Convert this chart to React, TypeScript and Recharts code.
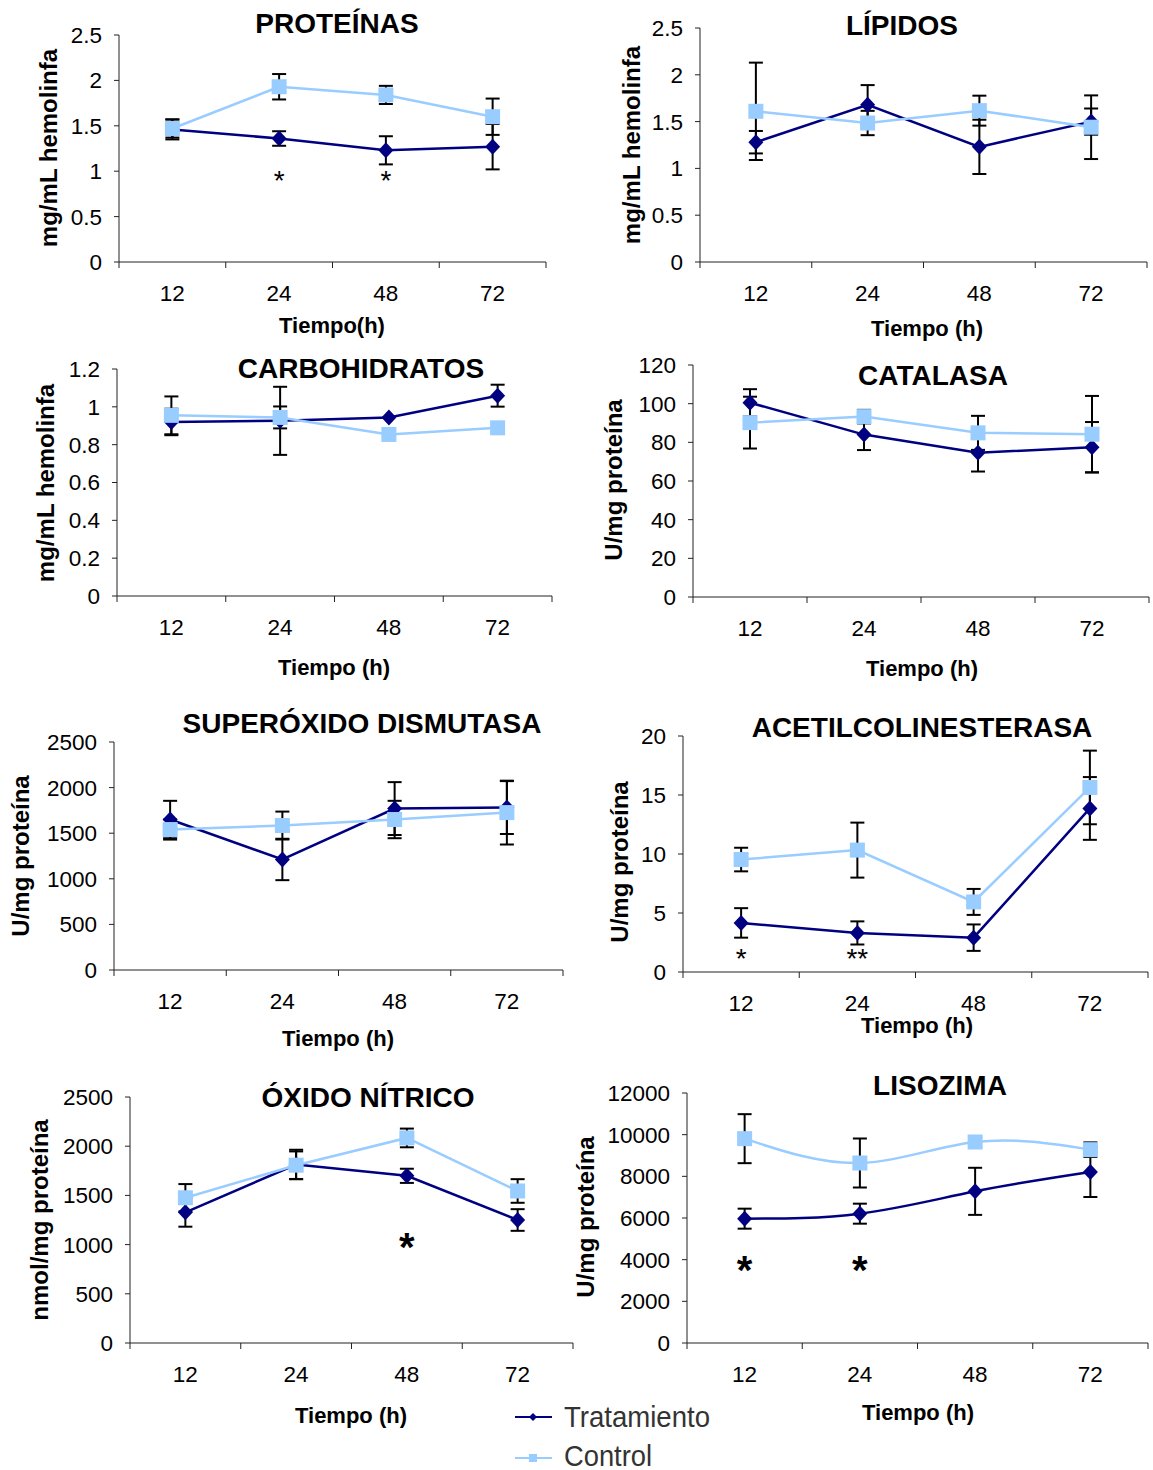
import React from "react";
import {LineChart, Line, XAxis, YAxis, ErrorBar, ReferenceDot} from "recharts";

const hours = ["12", "24", "48", "72"];

// PROTEÍNAS
const protTrat = [1.46, 1.36, 1.23, 1.27];
const protTratErr = [0.11, 0.08, 0.155, 0.25];
const protCtrl = [1.47, 1.93, 1.84, 1.6];
const protCtrlErr = [0.1, 0.14, 0.1, 0.2];
const protSig = ["", "*", "*", ""];
const protTicks = [0, 0.5, 1, 1.5, 2, 2.5];

// LÍPIDOS
const lipTrat = [1.28, 1.68, 1.23, 1.5];
const lipTratErr = [0.12, 0.21, 0.29, 0.14];
const lipCtrl = [1.61, 1.485, 1.617, 1.44];
const lipCtrlErr = [0.52, 0.13, 0.16, 0.34];
const lipTicks = [0, 0.5, 1, 1.5, 2, 2.5];

// CARBOHIDRATOS
const carbTrat = [0.92, 0.926, 0.944, 1.059];
const carbTratErr = [0.07, 0.18, 0, 0.058];
const carbCtrl = [0.955, 0.944, 0.854, 0.889];
const carbCtrlErr = [0.1, 0.058, 0, 0];
const carbTicks = [0, 0.2, 0.4, 0.6, 0.8, 1, 1.2];

// CATALASA
const catTrat = [100.5, 84, 74.6, 77.5];
const catTratErr = [7, 8, 9.7, 13];
const catCtrl = [90.2, 93.3, 84.9, 84.2];
const catCtrlErr = [13.4, 3.5, 8.8, 19.8];
const catTicks = [0, 20, 40, 60, 80, 100, 120];

// SUPERÓXIDO DISMUTASA
const sodTrat = [1650, 1212, 1770, 1781];
const sodTratErr = [205, 227, 290, 290];
const sodCtrl = [1540, 1584, 1650, 1726];
const sodCtrlErr = [110, 153, 205, 350];
const sodTicks = [0, 500, 1000, 1500, 2000, 2500];

// ACETILCOLINESTERASA
const acheTrat = [4.16, 3.31, 2.91, 13.86];
const acheTratErr = [1.25, 0.98, 1.12, 2.66];
const acheCtrl = [9.53, 10.33, 5.94, 15.64];
const acheCtrlErr = [1.0, 2.33, 1.1, 3.12];
const acheSig = ["*", "**", "", ""];
const acheTicks = [0, 5, 10, 15, 20];

// ÓXIDO NÍTRICO
const noTrat = [1328, 1814, 1699, 1250];
const noTratErr = [146, 150, 72, 110];
const noCtrl = [1476, 1807, 2084, 1545];
const noCtrlErr = [139, 140, 95, 120];
const noSig = ["", "", "*", ""];
const noTicks = [0, 500, 1000, 1500, 2000, 2500];

// LISOZIMA
const lisTrat = [5968, 6208, 7280, 8208];
const lisTratErr = [480, 480, 1130, 1200];
const lisCtrl = [9808, 8640, 9648, 9280];
const lisCtrlErr = [1176, 1176, 250, 350];
const lisSig = ["*", "*", "", ""];
const lisTicks = [0, 2000, 4000, 6000, 8000, 10000, 12000];

const NAVY = "#000080";
const LIGHT = "#99CCFF";
const AXIS = "#222";
const FONT = "'Liberation Sans', Arial, sans-serif";

const PAD_L = 110;
const PAD_T = 40;
const PAD_R = 6;
const PAD_B = 50;

const xTicks = [0, 0.5, 1, 1.5, 2, 2.5, 3, 3.5, 4];

const panels = [
  {title: "PROTEÍNAS", yLabel: "mg/mL hemolinfa", xLabel: "Tiempo(h)", trat: protTrat, tratErr: protTratErr, ctrl: protCtrl, ctrlErr: protCtrlErr, ticks: protTicks, sig: protSig, sigY: 0.94, sigSize: 28, sigBold: false, curve: "linear",
    box: {l: 119, t: 35, r: 546, b: 262}, titleAt: [337, 23], yLabelAt: [48, 148], xLabelAt: [332, 325]},
  {title: "LÍPIDOS", yLabel: "mg/mL hemolinfa", xLabel: "Tiempo (h)", trat: lipTrat, tratErr: lipTratErr, ctrl: lipCtrl, ctrlErr: lipCtrlErr, ticks: lipTicks, sig: null, sigY: 0, sigSize: 28, sigBold: false, curve: "linear",
    box: {l: 700, t: 28, r: 1147, b: 262}, titleAt: [902, 25], yLabelAt: [631, 145], xLabelAt: [927, 328]},
  {title: "CARBOHIDRATOS", yLabel: "mg/mL hemolinfa", xLabel: "Tiempo (h)", trat: carbTrat, tratErr: carbTratErr, ctrl: carbCtrl, ctrlErr: carbCtrlErr, ticks: carbTicks, sig: null, sigY: 0, sigSize: 28, sigBold: false, curve: "linear",
    box: {l: 117, t: 369, r: 552, b: 596}, titleAt: [361, 368], yLabelAt: [45, 483], xLabelAt: [334, 667]},
  {title: "CATALASA", yLabel: "U/mg proteína", xLabel: "Tiempo (h)", trat: catTrat, tratErr: catTratErr, ctrl: catCtrl, ctrlErr: catCtrlErr, ticks: catTicks, sig: null, sigY: 0, sigSize: 28, sigBold: false, curve: "linear",
    box: {l: 693, t: 365, r: 1149, b: 597}, titleAt: [933, 375], yLabelAt: [613, 480], xLabelAt: [922, 668]},
  {title: "SUPERÓXIDO DISMUTASA", yLabel: "U/mg proteína", xLabel: "Tiempo (h)", trat: sodTrat, tratErr: sodTratErr, ctrl: sodCtrl, ctrlErr: sodCtrlErr, ticks: sodTicks, sig: null, sigY: 0, sigSize: 28, sigBold: false, curve: "linear",
    box: {l: 114, t: 742, r: 563, b: 970}, titleAt: [362, 723], yLabelAt: [20, 856], xLabelAt: [338, 1038]},
  {title: "ACETILCOLINESTERASA", yLabel: "U/mg proteína", xLabel: "Tiempo (h)", trat: acheTrat, tratErr: acheTratErr, ctrl: acheCtrl, ctrlErr: acheCtrlErr, ticks: acheTicks, sig: acheSig, sigY: 1.44, sigSize: 28, sigBold: false, curve: "linear",
    box: {l: 683, t: 736, r: 1148, b: 972}, titleAt: [922, 727], yLabelAt: [619, 862], xLabelAt: [917, 1025]},
  {title: "ÓXIDO NÍTRICO", yLabel: "nmol/mg proteína", xLabel: "Tiempo (h)", trat: noTrat, tratErr: noTratErr, ctrl: noCtrl, ctrlErr: noCtrlErr, ticks: noTicks, sig: noSig, sigY: 1026, sigSize: 40, sigBold: true, curve: "linear",
    box: {l: 130, t: 1097, r: 573, b: 1343}, titleAt: [368, 1097], yLabelAt: [39, 1220], xLabelAt: [351, 1415]},
  {title: "LISOZIMA", yLabel: "U/mg proteína", xLabel: "Tiempo (h)", trat: lisTrat, tratErr: lisTratErr, ctrl: lisCtrl, ctrlErr: lisCtrlErr, ticks: lisTicks, sig: lisSig, sigY: 3744, sigSize: 40, sigBold: true, curve: "natural",
    box: {l: 687, t: 1093, r: 1148, b: 1343}, titleAt: [940, 1085], yLabelAt: [585, 1217], xLabelAt: [918, 1412]},
];

const buildRows = (trat: number[], tratErr: number[], ctrl: number[], ctrlErr: number[]) =>
  hours.map((h, i) => ({x: i + 0.5, hora: h, trat: trat[i], tratErr: tratErr[i], ctrl: ctrl[i], ctrlErr: ctrlErr[i]}));

const diamondDot = (props: any) => {
  const {cx, cy, index} = props;
  if (cx == null || cy == null) return <g key={index} />;
  return <path key={index} d={`M${cx},${cy - 8}L${cx + 7.5},${cy}L${cx},${cy + 8}L${cx - 7.5},${cy}Z`} fill={NAVY} />;
};

const squareDot = (props: any) => {
  const {cx, cy, index} = props;
  if (cx == null || cy == null) return <g key={index} />;
  return <rect key={index} x={cx - 7.5} y={cy - 7.5} width={15} height={15} fill={LIGHT} />;
};

function Panel({p}: {p: any}) {
  const w = p.box.r - p.box.l;
  const h = p.box.b - p.box.t;
  const data = buildRows(p.trat, p.tratErr, p.ctrl, p.ctrlErr);
  const axisY = PAD_T + h;
  const top = p.ticks[p.ticks.length - 1];

  const XTick = (props: any) => {
    const {x, payload} = props;
    const v = payload.value;
    if (Number.isInteger(v)) {
      return <line x1={x} x2={x} y1={axisY} y2={axisY + 6} stroke={AXIS} strokeWidth={1} />;
    }
    return (
      <text x={x} y={axisY + 31} textAnchor="middle" dominantBaseline="central" fontSize={22.5} fill="#000">
        {hours[Math.floor(v)]}
      </text>
    );
  };

  return (
    <div style={{position: "absolute", left: p.box.l - PAD_L, top: p.box.t - PAD_T}}>
      <LineChart width={w + PAD_L + PAD_R} height={h + PAD_T + PAD_B} data={data} margin={{top: PAD_T, right: PAD_R, left: 0, bottom: 0}}>
        <XAxis type="number" dataKey="x" domain={[0, 4]} ticks={xTicks} interval={0} tick={XTick} tickLine={false}
          axisLine={{stroke: AXIS}} height={PAD_B} />
        <YAxis type="number" domain={[0, top]} ticks={p.ticks} interval={0} width={PAD_L} tickSize={5} tickMargin={12}
          tick={{fontSize: 22.5, fill: "#000"}} axisLine={{stroke: AXIS}} tickLine={{stroke: AXIS}} />
        <Line type={p.curve} dataKey="trat" stroke={NAVY} strokeWidth={2.5} dot={diamondDot} activeDot={false} isAnimationActive={false}>
          <ErrorBar dataKey="tratErr" direction="y" width={7} stroke="#000" strokeWidth={2} isAnimationActive={false} />
        </Line>
        <Line type={p.curve} dataKey="ctrl" stroke={LIGHT} strokeWidth={2.5} dot={squareDot} activeDot={false} isAnimationActive={false}>
          <ErrorBar dataKey="ctrlErr" direction="y" width={7} stroke="#000" strokeWidth={2} isAnimationActive={false} />
        </Line>
        {p.sig && p.sig.map((s: string, i: number) => s ? (
          <ReferenceDot key={i} x={i + 0.5} y={p.sigY} r={0}
            shape={(sp: any) => (
              <text x={sp.cx} y={sp.cy} dy={p.sigSize * 0.12} textAnchor="middle" dominantBaseline="central"
                fontSize={p.sigSize} fontWeight={p.sigBold ? "bold" : "normal"} fill="#000">{s}</text>
            )} />
        ) : null)}
      </LineChart>
    </div>
  );
}

export default function App() {
  return (
    <div style={{position: "absolute", left: 0, top: 0, width: 1153, height: 1470, background: "#fff", fontFamily: FONT}}>
      {panels.map((p, i) => <Panel key={i} p={p} />)}
      <svg width={1153} height={1470} style={{position: "absolute", left: 0, top: 0, pointerEvents: "none"}} fontFamily={FONT}>
        {panels.map((p, i) => (
          <g key={i}>
            <text x={p.titleAt[0]} y={p.titleAt[1]} textAnchor="middle" dominantBaseline="central" fontSize={28} fontWeight="bold" fill="#000">{p.title}</text>
            <text transform={`translate(${p.yLabelAt[0]},${p.yLabelAt[1]}) rotate(-90)`} textAnchor="middle" dominantBaseline="central" fontSize={24} fontWeight="bold" fill="#000">{p.yLabel}</text>
            <text x={p.xLabelAt[0]} y={p.xLabelAt[1]} textAnchor="middle" dominantBaseline="central" fontSize={22} fontWeight="bold" fill="#000">{p.xLabel}</text>
          </g>
        ))}
        <g>
          <line x1={515} x2={552} y1={1417} y2={1417} stroke={NAVY} strokeWidth={2} />
          <path d="M533,1413L537,1417L533,1421L529,1417Z" fill={NAVY} />
          <text x={564} y={1416} dominantBaseline="central" fontSize={30} fill="#333" textLength={146} lengthAdjust="spacingAndGlyphs">Tratamiento</text>
          <line x1={515} x2={552} y1={1458} y2={1458} stroke={LIGHT} strokeWidth={2} />
          <rect x={529} y={1454} width={8} height={8} fill={LIGHT} />
          <text x={564} y={1455} dominantBaseline="central" fontSize={30} fill="#333" textLength={88} lengthAdjust="spacingAndGlyphs">Control</text>
        </g>
      </svg>
    </div>
  );
}
